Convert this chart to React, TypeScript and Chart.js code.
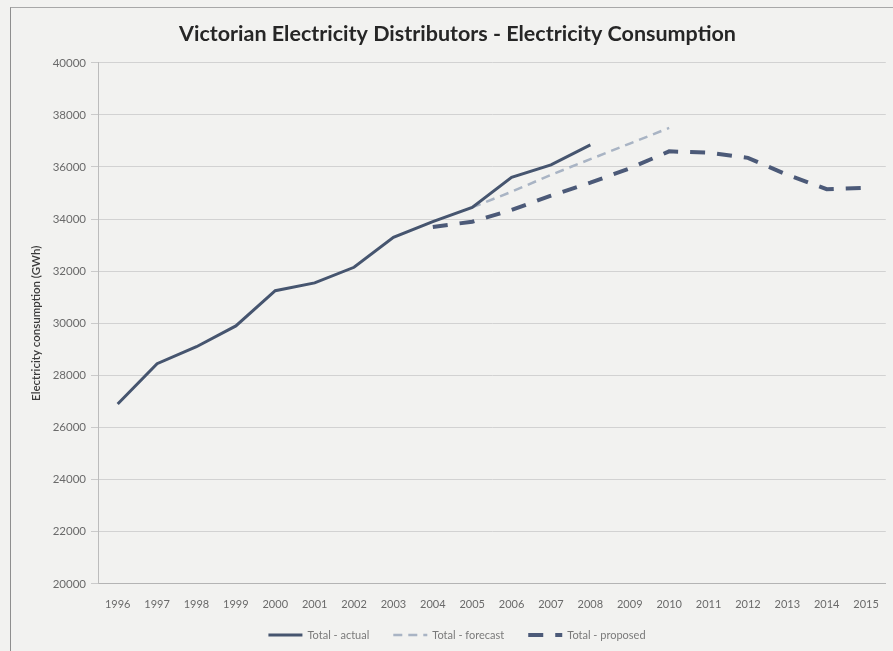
import React, { useEffect, useRef } from "react";
import { Chart, registerables } from "chart.js";

Chart.register(...registerables);

// Years on the category axis
const years = [
  "1996", "1997", "1998", "1999", "2000", "2001", "2002", "2003", "2004", "2005",
  "2006", "2007", "2008", "2009", "2010", "2011", "2012", "2013", "2014", "2015",
];

// Electricity consumption (GWh)
const totalActual = [
  26900, 28450, 29100, 29900, 31250, 31550, 32150, 33300, 33900, 34450,
  35600, 36080, 36850, null, null, null, null, null, null, null,
];
const totalForecast = [
  null, null, null, null, null, null, null, null, null, 34450,
  35050, 35700, 36300, 36900, 37500, null, null, null, null, null,
];
const totalProposed = [
  null, null, null, null, null, null, null, null, 33700, 33900,
  34350, 34900, 35400, 35950, 36600, 36550, 36350, 35700, 35150, 35200,
];

const yMin = 20000;
const yMax = 40000;
const yStep = 2000;

const FONT = "Lato, 'Open Sans', 'Noto Sans', sans-serif";

// Bottom legend: a short stroke sample in each series' style, then its label
const bottomLegend = {
  id: "bottomLegend",
  afterDraw(chart: any) {
    const ctx = chart.ctx as CanvasRenderingContext2D;
    const sets = chart.data.datasets;
    const sampleW = 34;
    const textGap = 5;
    const itemGap = 24;
    const centerX = 457;
    const y = 635;
    ctx.save();
    ctx.font = `11px ${FONT}`;
    const widths = sets.map((ds: any) => ctx.measureText(ds.label).width);
    const total =
      widths.reduce((a: number, w: number) => a + w + sampleW + textGap, 0) +
      itemGap * (sets.length - 1);
    let x = centerX - total / 2;
    sets.forEach((ds: any, i: number) => {
      ctx.beginPath();
      ctx.setLineDash(ds.borderDash || []);
      ctx.lineCap = "butt";
      ctx.lineWidth = ds.borderWidth;
      ctx.strokeStyle = ds.borderColor;
      ctx.moveTo(x, y);
      ctx.lineTo(x + sampleW, y);
      ctx.stroke();
      ctx.setLineDash([]);
      ctx.fillStyle = "#7a7a7a";
      ctx.textBaseline = "middle";
      ctx.textAlign = "left";
      ctx.fillText(ds.label, x + sampleW + textGap, y);
      x += sampleW + textGap + widths[i] + itemGap;
    });
    ctx.restore();
  },
};

export default function App() {
  const canvasRef = useRef<HTMLCanvasElement>(null);

  useEffect(() => {
    const canvas = canvasRef.current;
    if (!canvas) return;
    Chart.defaults.font.family = FONT;

    const chart = new Chart(canvas, {
      type: "line",
      data: {
        labels: years,
        datasets: [
          {
            label: "Total - actual",
            data: totalActual,
            borderColor: "#46556f",
            backgroundColor: "#46556f",
            borderWidth: 3,
            pointRadius: 0,
            tension: 0,
            spanGaps: false,
          },
          {
            label: "Total - forecast",
            data: totalForecast,
            borderColor: "#a9b4c4",
            backgroundColor: "#a9b4c4",
            borderWidth: 2.5,
            borderDash: [9, 6],
            pointRadius: 0,
            tension: 0,
            spanGaps: false,
          },
          {
            label: "Total - proposed",
            data: totalProposed,
            borderColor: "#4c5a78",
            backgroundColor: "#4c5a78",
            borderWidth: 4,
            borderDash: [15, 12],
            pointRadius: 0,
            tension: 0,
            spanGaps: false,
          },
        ],
      },
      options: {
        responsive: false,
        animation: false,
        events: [],
        layout: { padding: { left: 28, right: 6, top: 0, bottom: 26 } },
        plugins: {
          title: {
            display: true,
            text: "Victorian Electricity Distributors - Electricity Consumption",
            color: "#262626",
            font: { family: FONT, size: 21.5, weight: "bold" },
            padding: { top: 21, bottom: 16 },
          },
          legend: { display: false },
          tooltip: { enabled: false },
        },
        scales: {
          x: {
            offset: true,
            grid: { display: false, drawTicks: false },
            border: { display: true, color: "#b4b4b4", width: 1 },
            ticks: {
              color: "#6a6a6a",
              font: { family: FONT, size: 11 },
              padding: 14,
              maxRotation: 0,
              minRotation: 0,
              autoSkip: false,
            },
          },
          y: {
            min: yMin,
            max: yMax,
            grid: { color: "#d2d2d2", tickLength: 7, tickColor: "#cacaca" },
            border: { display: true, color: "#bcbcbc", width: 1 },
            ticks: {
              stepSize: yStep,
              padding: 5,
              color: "#6a6a6a",
              font: { family: FONT, size: 11.5 },
              callback: (v: any) => String(v),
            },
            title: {
              display: true,
              text: "Electricity consumption (GWh)",
              color: "#3a3a3a",
              font: { family: FONT, size: 11.5, weight: "600" },
              padding: { top: 1, bottom: 0 },
            },
            afterFit: (scale: any) => {
              scale.width = 70;
            },
          },
        },
      },
      plugins: [bottomLegend],
    });

    return () => chart.destroy();
  }, []);

  return (
    <div
      style={{
        position: "absolute",
        left: 0,
        top: 0,
        width: 893,
        height: 651,
        overflow: "hidden",
        background: "#f2f2f0",
      }}
    >
      <div
        style={{
          position: "absolute",
          left: 10,
          top: 7,
          width: 900,
          height: 660,
          borderLeft: "1px solid #8e8e8e",
          borderTop: "1px solid #a8a8a8",
        }}
      />
      <canvas
        ref={canvasRef}
        width={893}
        height={651}
        style={{ position: "absolute", left: 0, top: 0, display: "block" }}
      />
    </div>
  );
}
